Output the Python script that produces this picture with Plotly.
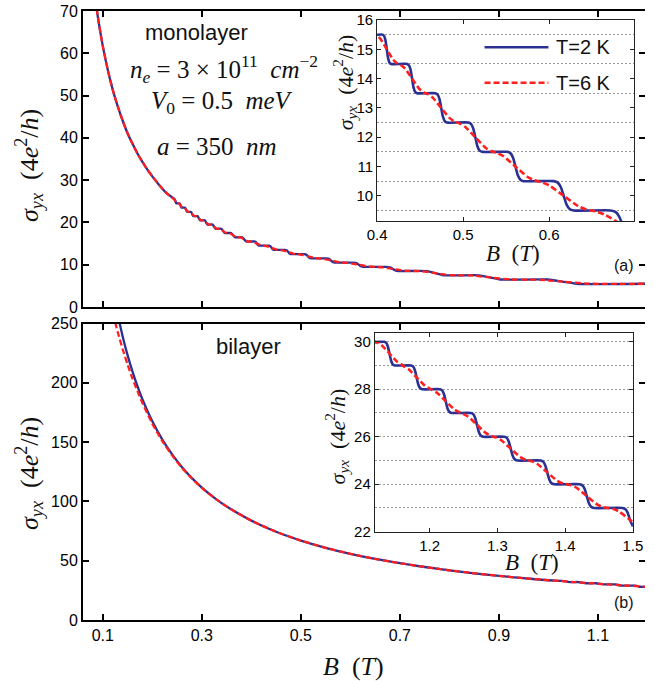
import plotly.graph_objects as go

# ---------------- data: Hall conductivity sigma_yx (units of 4e^2/h) vs field B (T) ----------------
# monolayer, T = 2 K
mono_b_2k = [0.0850, 0.0900, 0.0950, 0.1000, 0.1100, 0.1200, 0.1300, 0.1400, 0.1500, 0.1600,
             0.1700, 0.1800, 0.1900, 0.2000, 0.2150, 0.2300,
             0.2451, 0.2468, 0.2485, 0.2553, 0.2571, 0.2589, 0.2663, 0.2683, 0.2703,
             0.2783, 0.2805, 0.2827, 0.2914, 0.2938, 0.2962, 0.3059, 0.3085, 0.3111,
             0.3218, 0.3247, 0.3276, 0.3396, 0.3428, 0.3460, 0.3593, 0.3629, 0.3665,
             0.3815, 0.3856, 0.3897,
             0.4063, 0.4083, 0.4098, 0.4113, 0.4128, 0.4143, 0.4163,
             0.4349, 0.4372, 0.4390, 0.4407, 0.4424, 0.4442, 0.4465,
             0.4678, 0.4705, 0.4726, 0.4746, 0.4766, 0.4787, 0.4814,
             0.5062, 0.5094, 0.5118, 0.5142, 0.5166, 0.5190, 0.5222,
             0.5514, 0.5552, 0.5581, 0.5609, 0.5637, 0.5666, 0.5704,
             0.6055, 0.6101, 0.6136, 0.6170, 0.6204, 0.6239, 0.6285,
             0.6716, 0.6772, 0.6814, 0.6856, 0.6898, 0.6940, 0.6996,
             0.7549, 0.7713, 0.7877, 0.8600, 0.8814, 0.9028, 0.9991, 1.0283, 1.0575,
             1.1950]
mono_s_2k = [72.6, 68.6, 65.0, 61.7, 56.1, 51.4, 47.5, 44.1, 41.1, 38.6,
             36.3, 34.3, 32.5, 30.9, 28.7, 26.8,
             25.5, 25.0, 24.5, 24.5, 24.0, 23.5, 23.5, 23.0, 22.5,
             22.5, 22.0, 21.5, 21.5, 21.0, 20.5, 20.5, 20.0, 19.5,
             19.5, 19.0, 18.5, 18.5, 18.0, 17.5, 17.5, 17.0, 16.5,
             16.5, 16.0, 15.5,
             15.5, 15.45, 15.3, 15.0, 14.7, 14.55, 14.5,
             14.5, 14.45, 14.3, 14.0, 13.7, 13.55, 13.5,
             13.5, 13.45, 13.3, 13.0, 12.7, 12.55, 12.5,
             12.5, 12.45, 12.3, 12.0, 11.7, 11.55, 11.5,
             11.5, 11.45, 11.3, 11.0, 10.7, 10.55, 10.5,
             10.5, 10.45, 10.3, 10.0, 9.7, 9.55, 9.5,
             9.5, 9.45, 9.3, 9.0, 8.7, 8.55, 8.5,
             8.5, 8.0, 7.5, 7.5, 7.0, 6.5, 6.5, 6.0, 5.5,
             5.5]

# monolayer, T = 6 K
mono_b_6k = [0.0850, 0.0900, 0.0950, 0.1000, 0.1100, 0.1200, 0.1300, 0.1400, 0.1500, 0.1600,
             0.1700, 0.1800, 0.1900, 0.2000, 0.2150, 0.2300,
             0.2437, 0.2468, 0.2499, 0.2539, 0.2571, 0.2603, 0.2647, 0.2683, 0.2719,
             0.2765, 0.2805, 0.2845, 0.2895, 0.2938, 0.2981, 0.3038, 0.3085, 0.3132,
             0.3195, 0.3247, 0.3299, 0.3370, 0.3428, 0.3486, 0.3564, 0.3629, 0.3694,
             0.3782, 0.3856, 0.3930,
             0.3998, 0.4040, 0.4113, 0.4186, 0.4228,
             0.4274, 0.4323, 0.4407, 0.4491, 0.4540,
             0.4590, 0.4647, 0.4746, 0.4845, 0.4902,
             0.4958, 0.5026, 0.5142, 0.5258, 0.5326,
             0.5390, 0.5471, 0.5609, 0.5747, 0.5828,
             0.5905, 0.6003, 0.6170, 0.6337, 0.6435,
             0.6534, 0.6653, 0.6856, 0.7059, 0.7178,
             0.7418, 0.7713, 0.8008, 0.8429, 0.8814, 0.9199, 0.9757, 1.0283, 1.0809,
             1.1950]
mono_s_6k = [72.6, 68.6, 65.0, 61.7, 56.1, 51.4, 47.5, 44.1, 41.1, 38.6,
             36.3, 34.3, 32.5, 30.9, 28.7, 26.8,
             25.47, 25.0, 24.53, 24.47, 24.0, 23.53, 23.47, 23.0, 22.53,
             22.47, 22.0, 21.53, 21.47, 21.0, 20.53, 20.47, 20.0, 19.53,
             19.47, 19.0, 18.53, 18.47, 18.0, 17.53, 17.47, 17.0, 16.53,
             16.47, 16.0, 15.53,
             15.47, 15.35, 15.0, 14.65, 14.53,
             14.47, 14.35, 14.0, 13.65, 13.53,
             13.47, 13.35, 13.0, 12.65, 12.53,
             12.47, 12.35, 12.0, 11.65, 11.53,
             11.47, 11.35, 11.0, 10.65, 10.53,
             10.47, 10.35, 10.0, 9.65, 9.53,
             9.47, 9.35, 9.0, 8.65, 8.53,
             8.47, 8.0, 7.53, 7.47, 7.0, 6.53, 6.47, 6.0, 5.53,
             5.5]

# bilayer, T = 2 K
bi_b_2k = [0.1300, 0.1400, 0.1500, 0.1600, 0.1700, 0.1800, 0.2000, 0.2200, 0.2400, 0.2600,
           0.2800, 0.3000, 0.3300, 0.3600, 0.4000, 0.4500, 0.5000, 0.5500, 0.6000, 0.6500,
           0.7000, 0.7500, 0.8000, 0.8500, 0.9000, 0.9500, 1.0000,
           1.0284, 1.0354, 1.0424, 1.0610, 1.0683, 1.0756, 1.0957, 1.1033, 1.1109,
           1.1327, 1.1359, 1.1383, 1.1407, 1.1431, 1.1455, 1.1487,
           1.1723, 1.1757, 1.1782, 1.1807, 1.1832, 1.1857, 1.1891,
           1.2148, 1.2183, 1.2210, 1.2236, 1.2262, 1.2289, 1.2324,
           1.2606, 1.2643, 1.2670, 1.2698, 1.2726, 1.2753, 1.2790,
           1.3100, 1.3138, 1.3167, 1.3196, 1.3225, 1.3254, 1.3292,
           1.3635, 1.3675, 1.3705, 1.3735, 1.3765, 1.3795, 1.3835,
           1.4214, 1.4256, 1.4288, 1.4319, 1.4351, 1.4382, 1.4424,
           1.4846, 1.4890, 1.4923, 1.4956, 1.5000]
bi_s_2k = [257.7, 239.3, 223.3, 209.4, 197.1, 186.1, 167.5, 152.3, 139.6, 128.8,
           119.6, 111.7, 101.5, 93.1, 83.8, 74.4, 67.0, 60.9, 55.8, 51.5,
           47.9, 44.7, 41.9, 39.4, 37.2, 35.3, 33.5,
           33.0, 32.5, 32.0, 32.0, 31.5, 31.0, 31.0, 30.5, 30.0,
           30.0, 29.95, 29.8, 29.5, 29.2, 29.05, 29.0,
           29.0, 28.95, 28.8, 28.5, 28.2, 28.05, 28.0,
           28.0, 27.95, 27.8, 27.5, 27.2, 27.05, 27.0,
           27.0, 26.95, 26.8, 26.5, 26.2, 26.05, 26.0,
           26.0, 25.95, 25.8, 25.5, 25.2, 25.05, 25.0,
           25.0, 24.95, 24.8, 24.5, 24.2, 24.05, 24.0,
           24.0, 23.95, 23.8, 23.5, 23.2, 23.05, 23.0,
           23.0, 22.95, 22.8, 22.5, 22.22]

# bilayer, T = 6 K
bi_b_6k = [0.1250, 0.1300, 0.1400, 0.1500, 0.1600, 0.1700, 0.1800, 0.2000, 0.2200, 0.2400,
           0.2600, 0.2800, 0.3000, 0.3300, 0.3600, 0.4000, 0.4500, 0.5000, 0.5500, 0.6000,
           0.6500, 0.7000, 0.7500, 0.8000, 0.8500, 0.9000, 0.9500, 1.0000,
           1.0228, 1.0354, 1.0480, 1.0552, 1.0683, 1.0814, 1.0896, 1.1033, 1.1170,
           1.1223, 1.1291, 1.1407, 1.1523, 1.1591,
           1.1614, 1.1685, 1.1807, 1.1929, 1.2000,
           1.2034, 1.2108, 1.2236, 1.2364, 1.2438,
           1.2486, 1.2565, 1.2698, 1.2831, 1.2910,
           1.2975, 1.3057, 1.3196, 1.3335, 1.3417,
           1.3505, 1.3590, 1.3735, 1.3880, 1.3965,
           1.4077, 1.4167, 1.4319, 1.4471, 1.4561,
           1.4703, 1.4796, 1.4956, 1.5000]
bi_s_6k = [251.0, 243.0, 228.5, 215.5, 203.5, 193.0, 183.0, 165.5, 151.0, 138.8,
           128.3, 119.3, 111.5, 101.5, 93.1, 83.8, 74.4, 67.0, 60.9, 55.8,
           51.5, 47.9, 44.7, 41.9, 39.4, 37.2, 35.3, 33.5,
           32.97, 32.5, 32.03, 31.97, 31.5, 31.03, 30.97, 30.5, 30.03,
           29.97, 29.85, 29.5, 29.15, 29.03,
           28.97, 28.85, 28.5, 28.15, 28.03,
           27.97, 27.85, 27.5, 27.15, 27.03,
           26.97, 26.85, 26.5, 26.15, 26.03,
           25.97, 25.85, 25.5, 25.15, 25.03,
           24.97, 24.85, 24.5, 24.15, 24.03,
           23.97, 23.85, 23.5, 23.15, 23.03,
           22.97, 22.85, 22.5, 22.40]

# tick values / labels
main_x_ticks = [0.1, 0.3, 0.5, 0.7, 0.9, 1.1]
main_x_labels = ["0.1", "0.3", "0.5", "0.7", "0.9", "1.1"]
mono_y_ticks = [0, 10, 20, 30, 40, 50, 60, 70]
bi_y_ticks = [0, 50, 100, 150, 200, 250]
mono_inset_x_ticks = [0.4, 0.5, 0.6]
mono_inset_y_ticks = [10, 11, 12, 13, 14, 15, 16]
mono_inset_grid = [9.5, 10.5, 11.5, 12.5, 13.5, 14.5, 15.5]
bi_inset_x_ticks = [1.2, 1.3, 1.4, 1.5]
bi_inset_y_ticks = [22, 24, 26, 28, 30]
bi_inset_grid = [23, 24, 25, 26, 27, 28, 29, 30]

legend_labels = ["T=2 K", "T=6 K"]

# ---------------- styling ----------------
W, H = 655, 681
L, R, T, B = 83, 655, 11, 620          # plot-area pixel box
BLUE = "#2a3192"
RED = "#ff1f1f"
SANS = "Liberation Sans, Arial, sans-serif"
SERIF = "Liberation Serif, Times New Roman, serif"


def px(x):
    return (x - L) / (R - L)


def py(y):
    return (B - y) / (B - T)


fig = go.Figure()


def add_pair(b2, s2, b6, s6, xa, ya, width):
    fig.add_trace(go.Scatter(x=b2, y=s2, xaxis=xa, yaxis=ya, mode="lines",
                             line=dict(color=BLUE, width=width, shape="spline", smoothing=0.6),
                             showlegend=False, hoverinfo="skip"))
    fig.add_trace(go.Scatter(x=b6, y=s6, xaxis=xa, yaxis=ya, mode="lines",
                             line=dict(color=RED, width=width, dash="6px,3px",
                                       shape="spline", smoothing=0.6),
                             showlegend=False, hoverinfo="skip"))


add_pair(mono_b_2k, mono_s_2k, mono_b_6k, mono_s_6k, "x", "y", 2.3)
add_pair(bi_b_2k, bi_s_2k, bi_b_6k, bi_s_6k, "x2", "y2", 2.3)
add_pair(mono_b_2k, mono_s_2k, mono_b_6k, mono_s_6k, "x3", "y3", 2.6)
add_pair(bi_b_2k, bi_s_2k, bi_b_6k, bi_s_6k, "x4", "y4", 2.6)

# empty traces so the right-hand tick axes get drawn
fig.add_trace(go.Scatter(x=[], y=[], xaxis="x", yaxis="y5", showlegend=False))
fig.add_trace(go.Scatter(x=[], y=[], xaxis="x2", yaxis="y6", showlegend=False))

main_tick = dict(ticks="inside", ticklen=6, tickwidth=2, tickcolor="black",
                 showgrid=False, zeroline=False,
                 tickfont=dict(family=SANS, size=16, color="black"))
main_x = dict(main_tick, range=[0.06, 1.195], tickmode="array", tickvals=main_x_ticks,
              showline=True, linewidth=2, linecolor="black", mirror="ticks",
              domain=[0, 1])
inset_tick = dict(ticks="inside", ticklen=4, tickwidth=1, tickcolor="#222",
                  showline=True, linewidth=1, linecolor="#222", mirror="ticks",
                  showgrid=False, zeroline=False,
                  tickfont=dict(family=SANS, size=15, color="black"))
grid_minor = dict(ticks="", showgrid=True, gridcolor="#9a9a9a", gridwidth=1, griddash="2px,2px")

top_dom = [py(307), 1]
bot_dom = [0, py(323.5)]

fig.update_layout(
    width=W, height=H,
    margin=dict(l=L, r=W - R, t=T, b=H - B, pad=0),
    paper_bgcolor="white", plot_bgcolor="white",
    showlegend=False,
    xaxis=dict(main_x, anchor="y", showticklabels=False),
    yaxis=dict(main_tick, domain=top_dom, anchor="x", range=[0, 70], tickmode="array",
               tickvals=mono_y_ticks, showline=True, linewidth=2, linecolor="black"),
    yaxis5=dict(overlaying="y", side="right", anchor="x", range=[0, 70], tickmode="array",
                tickvals=mono_y_ticks, ticks="inside", ticklen=6, tickwidth=2,
                tickcolor="black", showticklabels=False, showline=False,
                showgrid=False, zeroline=False),
    xaxis2=dict(main_x, anchor="y2", ticktext=main_x_labels, showticklabels=True),
    yaxis2=dict(main_tick, domain=bot_dom, anchor="x2", range=[0, 250], tickmode="array",
                tickvals=bi_y_ticks, showline=True, linewidth=2, linecolor="black"),
    yaxis6=dict(overlaying="y2", side="right", anchor="x2", range=[0, 250], tickmode="array",
                tickvals=bi_y_ticks, ticks="inside", ticklen=6, tickwidth=2,
                tickcolor="black", showticklabels=False, showline=False,
                showgrid=False, zeroline=False),
    xaxis3=dict(inset_tick, domain=[px(382.3), px(644)], anchor="y3", range=[0.4, 0.699],
                tickmode="array", tickvals=mono_inset_x_ticks),
    yaxis3=dict(inset_tick, domain=[py(221), py(20)], anchor="x3", range=[9.14, 16],
                tickmode="array", tickvals=mono_inset_y_ticks,
                minor=dict(grid_minor, tickmode="array", tickvals=mono_inset_grid)),
    xaxis4=dict(inset_tick, domain=[px(380), px(642.7)], anchor="y4", range=[1.119, 1.5],
                tickmode="array", tickvals=bi_inset_x_ticks),
    yaxis4=dict(inset_tick, domain=[py(531.7), py(332.7)], anchor="x4", range=[22, 30.38],
                tickmode="array", tickvals=bi_inset_y_ticks,
                minor=dict(grid_minor, tickmode="array", tickvals=bi_inset_grid)),
)

SIG = "<i>σ</i><sub><i>yx</i></sub>\u00a0\u00a0(4<i>e</i><sup>2</sup>/<i>h</i>)"
BT = "<i>B</i>\u00a0\u00a0(<i>T</i>)"


def note(x, y, text, size, family=SANS, angle=0, xanchor="center"):
    fig.add_annotation(x=px(x), y=py(y), xref="paper", yref="paper", text=text,
                       showarrow=False, xanchor=xanchor, yanchor="middle",
                       textangle=angle, font=dict(family=family, size=size, color="#111"))


# panel texts
note(198.5, 33, "monolayer", 22)
note(226, 69, "<i>n</i><sub><i>e</i></sub> = 3 × 10<sup>11</sup>\u00a0\u00a0<i>cm</i><sup>−2</sup>", 25, SERIF)
note(224.5, 102, "<i>V</i><sub>0</sub> = 0.5\u00a0\u00a0<i>meV</i>", 25, SERIF)
note(219.5, 147, "<i>a</i> = 350\u00a0\u00a0<i>nm</i>", 25, SERIF)
note(251, 346, "bilayer", 22)
note(634, 265, "(a)", 16)
note(634, 602, "(b)", 16)

# axis titles
note(28, 165, SIG, 26, SERIF, angle=-90)
note(28, 473, SIG, 26, SERIF, angle=-90)
note(358, 666, BT, 26, SERIF)
note(350, 82, SIG, 22, SERIF, angle=-90)
note(342, 436, SIG, 22, SERIF, angle=-90)
note(521, 254, BT, 23, SERIF)
note(540, 562, BT, 23, SERIF)

# legend of the upper inset
fig.add_shape(type="line", xref="paper", yref="paper",
              x0=px(491.7), x1=px(556.7), y0=py(47.3), y1=py(47.3),
              line=dict(color=BLUE, width=2.6))
fig.add_shape(type="line", xref="paper", yref="paper",
              x0=px(491.7), x1=px(556.7), y0=py(82.7), y1=py(82.7),
              line=dict(color=RED, width=2.6, dash="6px,3px"))
note(562, 47.5, legend_labels[0], 20, xanchor="left")
note(562, 83, legend_labels[1], 20, xanchor="left")

fig.write_html("out.html")
